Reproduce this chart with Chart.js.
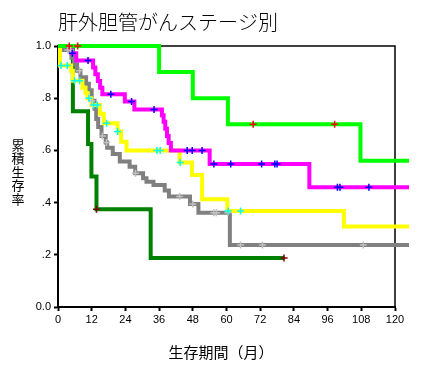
<!DOCTYPE html>
<html>
<head>
<meta charset="utf-8">
<script src="https://cdn.jsdelivr.net/npm/chart.js@4"></script>
<style>
  html, body { margin: 0; padding: 0; background: #fff; }
  #wrap { width: 422px; height: 368px; position: relative; }
</style>
</head>
<body>
<div id="wrap"><canvas id="kmChart" width="422" height="368"></canvas></div>
<script>
// 軸目盛り
const xTicks = [0, 12, 24, 36, 48, 60, 72, 84, 96, 108, 120];
const yTickLabels = ['0.0', '.2', '.4', '.6', '.8', '1.0'];

// 各群の生存曲線 (月, 累積生存率) と打ち切り時点
const limeT = [0, 36, 48, 60.5, 107.7, 125];
const limeS = [1.0, 0.9, 0.8, 0.7, 0.56, 0.56];
const limeCens = [4, 7, 69.5, 98.5];

const magentaT = [0, 4.8, 6.5, 12.5, 13.3, 14.2, 15, 15.8, 23.8, 27.2, 37, 37.6, 38.2, 38.8, 39.4, 40.2, 54, 89.5, 125];
const magentaS = [1.0, 0.972, 0.944, 0.918, 0.892, 0.866, 0.84, 0.815, 0.787, 0.757, 0.735, 0.71, 0.683, 0.655, 0.628, 0.6, 0.548, 0.459, 0.459];
const magentaCens = [5.1, 10.7, 18.8, 26.2, 34.2, 46, 47.8, 51.3, 55.5, 61.5, 72.5, 77.2, 78, 99.5, 100.4, 110.7];

const yellowT = [0, 0.7, 4.7, 5.3, 8.7, 9.8, 10.5, 11.9, 14.9, 16.3, 21.2, 22.5, 24.4, 43.3, 47.7, 51.3, 60.3, 101.8, 125];
const yellowS = [1.0, 0.925, 0.905, 0.867, 0.84, 0.82, 0.80, 0.774, 0.74, 0.704, 0.672, 0.633, 0.6, 0.554, 0.506, 0.413, 0.368, 0.308, 0.308];
const yellowCens = [1.1, 3.3, 5.9, 7.7, 11, 12.7, 14, 17.3, 21.2, 35.2, 36.4, 43.5, 60.6, 65];

const grayT = [0, 2, 4.8, 5.7, 6.8, 8, 10, 11, 12, 13, 13.6, 14.3, 15.5, 17, 17.5, 19.5, 22, 25.5, 27.5, 30.3, 31.5, 34, 38, 39.5, 47, 50, 61.2, 125];
const grayS = [1.0, 0.985, 0.955, 0.93, 0.905, 0.88, 0.855, 0.83, 0.79, 0.76, 0.72, 0.69, 0.655, 0.63, 0.61, 0.586, 0.557, 0.537, 0.512, 0.493, 0.48, 0.467, 0.446, 0.423, 0.395, 0.361, 0.238, 0.238];
const grayCens = [3.5, 4.5, 7.7, 12, 15.8, 17.3, 27.6, 43.3, 48, 55.5, 56.4, 60.5, 65, 72.8, 108.7];

const dkgreenT = [0, 5.3, 10.7, 11.9, 13.7, 33, 80.5];
const dkgreenS = [1.0, 0.75, 0.625, 0.5, 0.375, 0.1875, 0.1875];
const dkgreenCens = [13.7, 80.5];

// 打ち切り点の高さは曲線から読む
function survAt(times, surv, t) {
    let s = surv[0];
    for (let i = 0; i < times.length; i++) {
        if (times[i] <= t) s = surv[i];
    }
    return s;
}

function curve(label, times, surv, color) {
    return {
        type: 'line',
        label: label,
        data: times.map((t, i) => ({ x: t, y: surv[i] })),
        borderColor: color,
        borderWidth: 4,
        stepped: true,
        pointRadius: 0,
        fill: false,
        clip: false
    };
}

function censors(label, cens, times, surv, color) {
    return {
        type: 'scatter',
        label: label,
        data: cens.map(t => ({ x: t, y: survAt(times, surv, t) })),
        pointStyle: 'cross',
        pointRadius: 3.5,
        borderColor: color,
        borderWidth: 1.5,
        showLine: false,
        clip: false
    };
}

// タイトル・軸タイトル・枠線
const textPlugin = {
    id: 'kmText',
    beforeDatasetsDraw(chart) {
        const { ctx, chartArea: a } = chart;
        ctx.save();
        ctx.strokeStyle = '#000';
        ctx.lineWidth = 1.5;
        ctx.beginPath();
        ctx.moveTo(a.left, a.top);
        ctx.lineTo(a.right, a.top);
        ctx.lineTo(a.right, a.bottom);
        ctx.stroke();
        ctx.restore();
    },
    afterDraw(chart) {
        const ctx = chart.ctx;
        ctx.save();
        ctx.fillStyle = '#000';
        ctx.textBaseline = 'middle';
        ctx.textAlign = 'left';
        ctx.font = '300 20px "Noto Sans CJK JP"';
        ctx.fillText('肝外胆管がんステージ別', 58, 22);

        ctx.textAlign = 'center';
        ctx.font = '13px "Noto Sans CJK JP"';
        const yTitle = '累積生存率';
        for (let i = 0; i < yTitle.length; i++) {
            ctx.fillText(yTitle[i], 18, 145 + i * 13.4);
        }
        ctx.font = '15px "Noto Sans CJK JP"';
        ctx.fillText('生存期間（月）', 221, 352);
        ctx.restore();
    }
};

const ctx = document.getElementById('kmChart').getContext('2d');
const kmChart = new Chart(ctx, {
    data: {
        datasets: [
            censors('打ち切り1', limeCens, limeT, limeS, '#ff0000'),
            censors('打ち切り2', magentaCens, magentaT, magentaS, '#0000ff'),
            censors('打ち切り3', yellowCens, yellowT, yellowS, '#00ffff'),
            censors('打ち切り4', grayCens, grayT, grayS, '#c0c0c0'),
            censors('打ち切り5', dkgreenCens, dkgreenT, dkgreenS, '#800000'),
            curve('群1', limeT, limeS, '#00ff00'),
            curve('群2', magentaT, magentaS, '#ff00ff'),
            curve('群3', yellowT, yellowS, '#ffff00'),
            curve('群4', grayT, grayS, '#808080'),
            curve('群5', dkgreenT, dkgreenS, '#008000')
        ]
    },
    options: {
        responsive: false,
        animation: false,
        layout: { padding: { left: 0, right: 27, top: 46, bottom: 0 } },
        plugins: {
            legend: { display: false },
            tooltip: { enabled: false }
        },
        scales: {
            x: {
                type: 'linear',
                min: 0,
                max: 120,
                afterBuildTicks: (scale) => { scale.ticks = xTicks.map(v => ({ value: v })); },
                afterFit: (scale) => { scale.height = 61; },
                ticks: {
                    color: '#000',
                    padding: 2,
                    maxRotation: 0,
                    autoSkip: false,
                    font: { family: 'Liberation Sans', size: 11 }
                },
                grid: { drawOnChartArea: false, tickLength: 4, color: '#000', tickWidth: 2 },
                border: { color: '#000', width: 2 }
            },
            y: {
                type: 'linear',
                min: 0,
                max: 1,
                afterBuildTicks: (scale) => { scale.ticks = yTickLabels.map((t, i) => ({ value: i * 0.2 })); },
                afterFit: (scale) => { scale.width = 58; },
                ticks: {
                    color: '#000',
                    padding: 3,
                    callback: (v, i) => yTickLabels[i],
                    font: { family: 'Liberation Sans', size: 11 }
                },
                grid: { drawOnChartArea: false, tickLength: 4, color: '#000', tickWidth: 2 },
                border: { color: '#000', width: 2 }
            }
        }
    },
    plugins: [textPlugin]
});
</script>
</body>
</html>
